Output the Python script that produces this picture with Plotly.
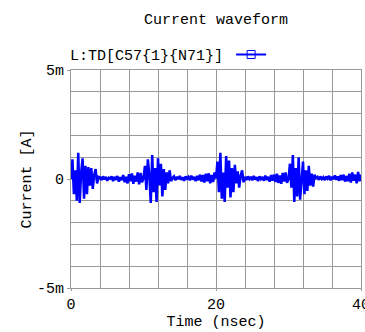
import plotly.graph_objects as go

# Time axis (ns), sampled every 0.2 ns from 0 to 40
time_ns = [round(i * 0.2, 1) for i in range(201)]

# Current values in mA (4 bursts of ringing, ~10 ns apart)
period1 = [0.0, 0.9, -0.7, 0.4, -1.0, 1.2, -1.1, 0.3, 0.95, -0.9,
           0.6, -0.7, 0.55, -0.3, 0.5, -0.45, 0.2, 0.45, -0.2, 0.1,
           0.08, -0.05, 0.12, -0.02, 0.1, -0.08, 0.06, 0.02, 0.12, -0.1,
           0.1, -0.04, 0.14, -0.12, 0.08, -0.05, 0.18, -0.15, 0.1, -0.2,
           0.22, -0.1, 0.25, -0.22, 0.15, -0.12, 0.3, -0.25, 0.28, -0.15]
period2 = [0.05, 0.6, -0.5, 0.9, 0.2, -1.1, 1.1, -0.6, 0.5, -1.05,
           0.95, -0.3, 0.7, -0.8, 0.45, -0.5, 0.3, -0.2, 0.4, -0.1,
           0.05, 0.12, -0.06, 0.1, 0.0, 0.14, -0.04, 0.08, -0.08, 0.12,
           0.02, 0.1, -0.06, 0.15, -0.03, 0.1, -0.1, 0.14, -0.06, 0.2,
           -0.12, 0.18, -0.16, 0.24, -0.1, 0.26, -0.2, 0.18, -0.14, 0.3]
period3 = [0.02, 0.8, -0.6, 1.2, -0.9, 0.3, -1.05, 1.05, -0.4, 0.85,
           -0.85, 0.5, -0.6, 0.65, -0.2, 0.35, -0.4, 0.15, 0.4, -0.15,
           0.1, -0.05, 0.12, 0.0, 0.1, -0.06, 0.14, -0.02, 0.08, -0.1,
           0.12, 0.0, 0.1, -0.08, 0.16, -0.05, 0.1, -0.12, 0.18, -0.08,
           0.2, -0.14, 0.24, -0.18, 0.16, -0.22, 0.28, -0.12, 0.3, -0.18]
period4 = [0.0, 0.7, -0.4, 1.1, -1.05, 0.5, -0.8, 1.0, -0.95, 0.2,
           0.8, -0.7, 0.4, -0.55, 0.6, -0.3, 0.25, -0.35, 0.2, 0.05,
           0.1, -0.04, 0.12, 0.0, 0.08, -0.05, 0.12, 0.02, 0.14, -0.06,
           0.1, 0.0, 0.16, -0.04, 0.12, -0.08, 0.18, -0.05, 0.2, -0.12,
           0.14, -0.1, 0.24, -0.16, 0.3, -0.08, 0.2, -0.2, 0.32, -0.1]
final_point = [0.2]
current_mA = period1 + period2 + period3 + period4 + final_point

series_name = "L:TD[C57{1}{N71}]"
x_tick_vals = [0, 20, 40]
x_tick_text = ["0", "20", "40"]
y_tick_vals = [-5, 0, 5]
y_tick_text = ["-5m", "0", "5m"]

FONT = "Liberation Mono"
BLUE = "#0000ff"
GRID = "#999999"

fig = go.Figure()
fig.add_trace(go.Scatter(x=time_ns, y=current_mA, mode="lines",
                         line=dict(color=BLUE, width=2.5),
                         showlegend=False, hoverinfo="skip"))
# legend-only entry (line + open square icon)
fig.add_trace(go.Scatter(x=[None], y=[None], mode="lines+markers",
                         line=dict(color=BLUE, width=2),
                         marker=dict(symbol="square-open", size=8, color=BLUE),
                         name=" ", showlegend=True))

fig.update_layout(
    width=365, height=332,
    margin=dict(l=71, r=4, t=70, b=44, autoexpand=False),
    paper_bgcolor="white", plot_bgcolor="white",
    font=dict(family=FONT, size=15, color="black"),
    title=dict(text="Current waveform", x=0.592, xanchor="center",
               y=0.945, yanchor="middle", font=dict(family=FONT, size=15)),
    legend=dict(x=-0.01, xanchor="left", y=1.0, yanchor="bottom",
                orientation="h", bgcolor="rgba(0,0,0,0)",
                title=dict(text=series_name, side="left", font=dict(family=FONT, size=15)),
                itemwidth=30, font=dict(size=2),
                tracegroupgap=0),
    xaxis=dict(range=[0, 40], tickvals=x_tick_vals, ticktext=x_tick_text,
               showgrid=True, gridcolor=GRID, gridwidth=1,
               minor=dict(dtick=4, showgrid=True, gridcolor=GRID, gridwidth=1),
               showline=True, linecolor=GRID, linewidth=1, mirror=True,
               ticks="outside", ticklen=2, tickcolor=GRID,
               zeroline=False, ticklabeloverflow="allow", automargin=False,
               title=dict(text="Time (nsec)", standoff=0,
                          font=dict(family=FONT, size=15)),
               tickfont=dict(family=FONT, size=15)),
    yaxis=dict(range=[-5, 5], tickvals=y_tick_vals, ticktext=y_tick_text,
               showgrid=True, gridcolor=GRID, gridwidth=1,
               minor=dict(dtick=1, showgrid=True, gridcolor=GRID, gridwidth=1),
               showline=True, linecolor=GRID, linewidth=1, mirror=True,
               ticks="outside", ticklen=3, tickcolor=GRID,
               zeroline=False, automargin=False,
               title=dict(text="Current [A]", standoff=1,
                          font=dict(family=FONT, size=15)),
               tickfont=dict(family=FONT, size=15)),
)

fig.write_html("out.html")
